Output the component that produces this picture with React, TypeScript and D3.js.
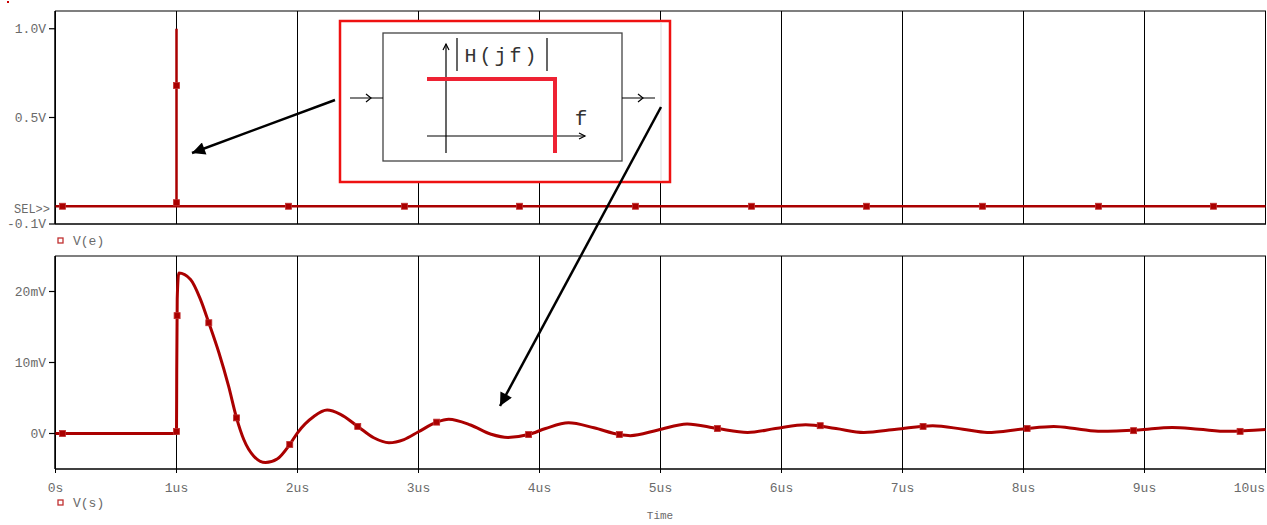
import * as d3 from "d3";

// time axis (us)
const timeTicks = [0, 1, 2, 3, 4, 5, 6, 7, 8, 9, 10];
const timeLabels = ["0s", "1us", "2us", "3us", "4us", "5us", "6us", "7us", "8us", "9us", "10us"];

// top plot V(e), volts
const topTicks = [1.0, 0.5, -0.1];
const topTickLabels = ["1.0V", "0.5V", "-0.1V"];
const vETime = [0, 1.0, 1.0, 1.0, 10];
const vEValue = [0, 0, 1.0, 0, 0];
const vEMarkTime = [0.058, 1.0, 1.0, 1.926, 2.884, 3.835, 4.793, 5.752, 6.702, 7.661, 8.62, 9.57];
const vEMarkValue = [0, 0.68, 0.02, 0, 0, 0, 0, 0, 0, 0, 0, 0];

// bottom plot V(s), millivolts
const bottomTicks = [20, 10, 0];
const bottomTickLabels = ["20mV", "10mV", "0V"];
const vSTime = [
  0, 1.0, 1.002, 1.006, 1.019, 1.116, 1.198, 1.267, 1.35, 1.43, 1.496, 1.556, 1.639, 1.736,
  1.832, 1.936, 2.0, 2.135, 2.245, 2.355, 2.498, 2.63, 2.755, 2.88, 3.0, 3.15, 3.25, 3.43,
  3.6, 3.74, 3.91, 4.05, 4.24, 4.45, 4.66, 4.75, 4.98, 5.22, 5.47, 5.72, 5.95, 6.2, 6.45,
  6.68, 6.95, 7.25, 7.5, 7.7, 8.0, 8.25, 8.45, 8.64, 8.95, 9.23, 9.45, 9.69, 10,
];
const vSValue = [
  0, 0, 9, 19, 22.6, 21.7, 18.9, 15.6, 11.4, 6.7, 2.2, -0.85, -3.2, -4.1,
  -3.6, -1.55, 0.1, 2.4, 3.3, 2.7, 1.0, -0.6, -1.3, -0.85, 0.24, 1.6, 2.0, 1.2,
  -0.1, -0.55, -0.15, 0.7, 1.5, 0.8, -0.15, -0.3, 0.5, 1.35, 0.7, 0.15, 0.7, 1.25, 0.7,
  0.15, 0.6, 1.1, 0.6, 0.15, 0.65, 1.0, 0.65, 0.3, 0.5, 0.85, 0.6, 0.3, 0.55,
];
const vSMarkTime = [0.058, 1.0, 1.005, 1.267, 1.496, 1.936, 2.498, 3.15, 3.91, 4.66, 5.47, 6.32, 7.17, 8.03, 8.91, 9.79];
const vSMarkValue = [0, 0.3, 16.6, 15.6, 2.2, -1.55, 1.0, 1.6, -0.15, -0.15, 0.7, 1.1, 1.0, 0.7, 0.4, 0.3];

const W = 1267;
const H = 525;
const traceColor = "#aa0000";
const textColor = "#6a6a6a";
const font = "'Liberation Mono', 'DejaVu Sans Mono', monospace";

const x = d3.scaleLinear().domain([0, 10]).range([55.5, 1265.5]);
const yTop = d3.scaleLinear().domain([-0.1, 1.1]).range([224, 11]);
const yBot = d3.scaleLinear().domain([-5, 25]).range([469, 256]);

const topLine = d3
  .line<number>()
  .x((i) => x(vETime[i]))
  .y((i) => yTop(vEValue[i]));

const botLine = d3
  .line<number>()
  .x((i) => x(vSTime[i]))
  .y((i) => yBot(vSValue[i]))
  .curve(d3.curveMonotoneX);

const Marker = ({ cx, cy }: { cx: number; cy: number }) => (
  <rect x={cx - 3} y={cy - 3} width={6} height={6} fill={traceColor} stroke="#c03030" strokeWidth={0.8} />
);

const Panel = ({ y, top, bottom, ticks, labels, xLabels }: any) => (
  <g>
    {timeTicks.map((t) => (
      <line key={t} x1={x(t)} x2={x(t)} y1={top} y2={bottom + (xLabels ? 4 : 0)} stroke="#000" strokeWidth={1} />
    ))}
    <line x1={55} x2={1266} y1={top} y2={top} stroke="#000" strokeWidth={1.2} />
    <line x1={55} x2={1266} y1={bottom} y2={bottom} stroke="#000" strokeWidth={1.5} />
    <line x1={55} x2={55} y1={top} y2={bottom} stroke="#000" strokeWidth={1.5} />
    {ticks.map((v: number, i: number) => (
      <g key={v}>
        <line x1={49} x2={55} y1={y(v)} y2={y(v)} stroke="#000" strokeWidth={1.2} />
        <text x={46} y={y(v) + 4} textAnchor="end" fontFamily={font} fontSize={13} fill={textColor}>
          {labels[i]}
        </text>
      </g>
    ))}
    {xLabels &&
      timeTicks.map((t, i) => (
        <text
          key={t}
          x={i === timeTicks.length - 1 ? 1265 : x(t)}
          y={492}
          textAnchor={i === timeTicks.length - 1 ? "end" : "middle"}
          fontFamily={font}
          fontSize={13}
          fill={textColor}
        >
          {timeLabels[i]}
        </text>
      ))}
  </g>
);

export default function App() {
  return (
    <div style={{ position: "absolute", left: 0, top: 0 }}>
      <svg width={W} height={H} style={{ display: "block", background: "#fff" }}>
        <defs>
          <marker id="blackHead" viewBox="0 0 10 10" refX={10} refY={5} markerWidth={16} markerHeight={13} orient="auto" markerUnits="userSpaceOnUse">
            <path d="M0,0 L10,5 L0,10 z" fill="#000" />
          </marker>
        </defs>
        <rect x={7} y={1} width={2} height={2} fill="#cc0000" />

        {/* top panel */}
        <Panel y={yTop} top={11} bottom={224} ticks={topTicks} labels={topTickLabels} xLabels={false} />
        <text x={50} y={213} textAnchor="end" fontFamily={font} fontSize={12} fill={textColor}>
          SEL&gt;&gt;
        </text>
        <path d={topLine(d3.range(vETime.length)) || ""} fill="none" stroke={traceColor} strokeWidth={2.5} />
        {vEMarkTime.map((t, i) => (
          <Marker key={i} cx={x(t)} cy={yTop(vEMarkValue[i])} />
        ))}
        <rect x={58} y={238} width={5} height={5} fill="#fff" stroke="#c03030" strokeWidth={1.3} />
        <text x={73} y={245} fontFamily={font} fontSize={13} fill={textColor}>
          V(e)
        </text>

        {/* bottom panel */}
        <Panel y={yBot} top={256} bottom={469} ticks={bottomTicks} labels={bottomTickLabels} xLabels={true} />
        <path d={botLine(d3.range(vSTime.length)) || ""} fill="none" stroke={traceColor} strokeWidth={3} strokeLinejoin="round" />
        {vSMarkTime.map((t, i) => (
          <Marker key={i} cx={x(t)} cy={yBot(vSMarkValue[i])} />
        ))}
        <rect x={58} y={500} width={5} height={5} fill="#fff" stroke="#c03030" strokeWidth={1.3} />
        <text x={73} y={507} fontFamily={font} fontSize={13} fill={textColor}>
          V(s)
        </text>
        <text x={660} y={519} textAnchor="middle" fontFamily={font} fontSize={11} fill={textColor}>
          Time
        </text>

        {/* filter inset */}
        <rect x={340} y={21} width={330} height={161} fill="#fff" stroke="#ee1111" strokeWidth={2.5} />
        <line x1={661} x2={661} y1={22} y2={181} stroke="#ddd" strokeWidth={1} />
        <rect x={383} y={33} width={239} height={128} fill="#fff" stroke="#444" strokeWidth={1.3} />
        <line x1={350} x2={383} y1={98} y2={98} stroke="#000" strokeWidth={1.2} />
        <path d="M366,94 L371,98 L366,102" fill="none" stroke="#000" strokeWidth={1.2} />
        <line x1={622} x2={655} y1={98} y2={98} stroke="#000" strokeWidth={1.2} />
        <path d="M638,94 L643,98 L638,102" fill="none" stroke="#000" strokeWidth={1.2} />
        <line x1={446} x2={446} y1={153} y2={44} stroke="#000" strokeWidth={1.2} />
        <path d="M443,50 L446,44 L449,50" fill="none" stroke="#000" strokeWidth={1.2} />
        <line x1={427} x2={585} y1={136} y2={136} stroke="#000" strokeWidth={1.2} />
        <path d="M579,133 L585,136 L579,139" fill="none" stroke="#000" strokeWidth={1.2} />
        <line x1={457} x2={457} y1={38} y2={71} stroke="#000" strokeWidth={1.2} />
        <line x1={547} x2={547} y1={38} y2={71} stroke="#000" strokeWidth={1.2} />
        <text x={502} y={62} textAnchor="middle" fontFamily={font} fontSize={20} fill="#333" letterSpacing={3}>
          H(jf)
        </text>
        <text x={581} y={125} textAnchor="middle" fontFamily={font} fontSize={21} fill="#333">
          f
        </text>
        <path d="M427,79 L555,79 L555,153" fill="none" stroke="#ee2233" strokeWidth={4} />

        {/* black arrows */}
        <line x1={335} y1={100} x2={192} y2={153} stroke="#000" strokeWidth={2.5} markerEnd="url(#blackHead)" />
        <line x1={661} y1={107} x2={500} y2={406} stroke="#000" strokeWidth={2.5} markerEnd="url(#blackHead)" />
      </svg>
    </div>
  );
}
